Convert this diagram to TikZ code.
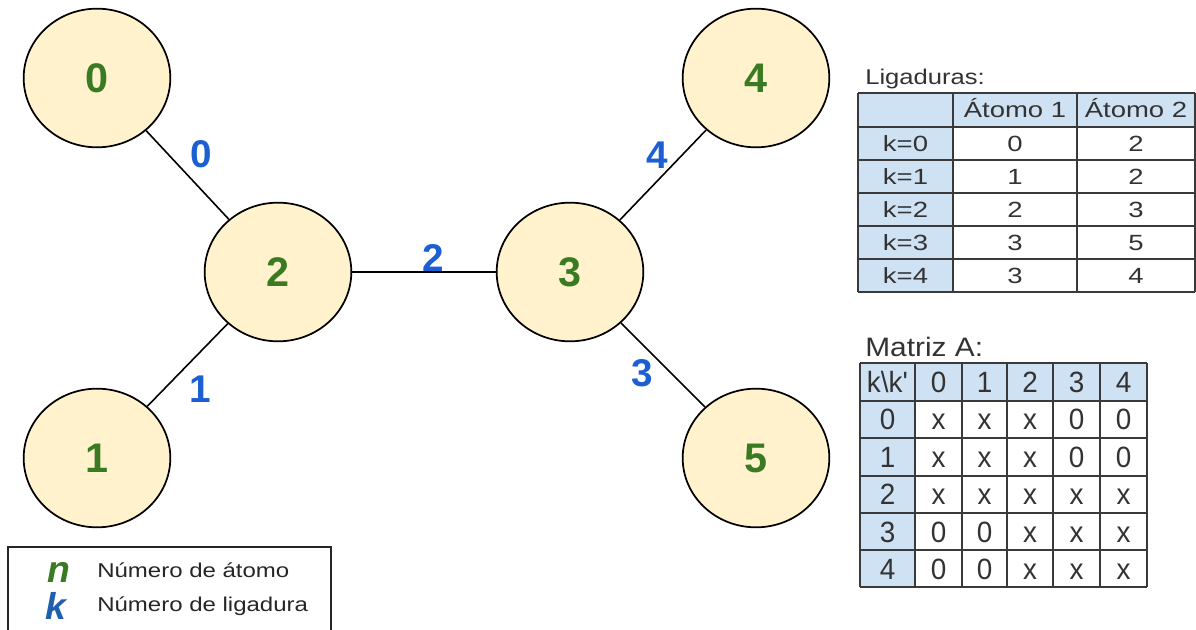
\documentclass[tikz,border=0pt]{standalone}
\usepackage{fontspec}
\setmainfont{Liberation Sans}
\newfontfamily\ligfont[FakeStretch=1.25]{Liberation Sans}
\newfontfamily\ligtitlefont[FakeStretch=1.2]{Liberation Sans}
\newfontfamily\mattitlefont[FakeStretch=1.12]{Liberation Sans}
\newfontfamily\matfont[FakeStretch=0.95]{Liberation Sans}
\newfontfamily\legfont[FakeStretch=1.2]{Liberation Sans}
\usetikzlibrary{shapes.geometric}

\definecolor{atomfill}{HTML}{FFF2CC}
\definecolor{atomgreen}{HTML}{3A7A22}
\definecolor{bondblue}{HTML}{1C5FD2}
\definecolor{legblue}{HTML}{1F5FAE}
\definecolor{hdrblue}{HTML}{CFE2F3}
\definecolor{tabtext}{HTML}{333333}
\definecolor{tabline}{HTML}{3A3A3A}

\tikzset{
  atom/.style={ellipse, draw=black, line width=1.3pt, fill=atomfill,
    minimum width=110pt, minimum height=104pt, inner sep=0pt,
    text=atomgreen, font=\fontsize{31}{31}\selectfont\bfseries},
  bond/.style={draw=black, line width=1.2pt},
  bondlbl/.style={text=bondblue, font=\fontsize{29}{29}\selectfont\bfseries,
    inner sep=0pt, anchor=base},
  tgrid/.style={draw=tabline, line width=1.1pt},
  ligcell/.style={text=tabtext, inner sep=0pt, text height=11.5pt, text depth=0pt,
    font=\ligfont\fontsize{16.5}{16.5}\selectfont},
  matcell/.style={text=tabtext, inner sep=0pt, text height=15.5pt, text depth=0pt,
    font=\matfont\fontsize{22}{22}\selectfont},
  ttitle/.style={text=tabtext, inner sep=0pt, anchor=base west},
  legsym/.style={inner sep=0pt, anchor=base west,
    font=\fontsize{28}{28}\selectfont\bfseries\itshape},
  legtext/.style={text=black!85, inner sep=0pt, anchor=base west,
    font=\legfont\fontsize{15}{15}\selectfont},
}

\begin{document}
\begin{tikzpicture}[x=0.75pt, y=-0.75pt]
  % page frame
  \fill[white] (0,0) rectangle (1196,630);
  \useasboundingbox (0,0) rectangle (1196,630);

  % ---- molecule graph ----
  \node[atom] (a0) at (97,78)  {0};
  \node[atom] (a1) at (97,458) {1};
  \node[atom] (a2) at (278,272) {2};
  \node[atom] (a3) at (570,272) {3};
  \node[atom] (a4) at (756,78) {4};
  \node[atom] (a5) at (756,458) {5};

  \draw[bond] (a0) -- (a2);
  \draw[bond] (a1) -- (a2);
  \draw[bond] (a2) -- (a3);
  \draw[bond] (a3) -- (a5);
  \draw[bond] (a3) -- (a4);

  \node[bondlbl] (b0) at (201,168) {0};
  \node[bondlbl] (b1) at (200,403) {1};
  \node[bondlbl] (b2) at (433,272) {2};
  \node[bondlbl] (b3) at (642,387) {3};
  \node[bondlbl] (b4) at (657,169) {4};

  % ---- bond table ----
  \node[ttitle, font=\ligtitlefont\fontsize{16}{16}\selectfont] (ligtitle) at (865,85) {Ligaduras:};
  \fill[hdrblue] (858,93) rectangle (1195,127);
  \fill[hdrblue] (858,127) rectangle (953,292);
  \foreach \yy in {93,127,160,193,226,259,292}
    \draw[tgrid] (858,\yy) -- (1195,\yy);
  \foreach \xx in {858,953,1077,1195}
    \draw[tgrid] (\xx,93) -- (\xx,292);
  \node[ligcell] (lh1) at (1015,110) {Átomo 1};
  \node[ligcell] (lh2) at (1136,110) {Átomo 2};
  \foreach \kk/\aa/\bb [count=\i from 0] in {k=0/0/2, k=1/1/2, k=2/2/3, k=3/3/5, k=4/3/4} {
    \pgfmathsetmacro{\ry}{143.5+33*\i}
    \node[ligcell] (lk\i) at (905.5,\ry) {\kk};
    \node[ligcell] (la\i) at (1015,\ry) {\aa};
    \node[ligcell] (lb\i) at (1136,\ry) {\bb};
  }

  % ---- adjacency matrix ----
  \node[ttitle, font=\mattitlefont\fontsize{20}{20}\selectfont] (mattitle) at (865,357) {Matriz A:};
  \fill[hdrblue] (860,363) rectangle (1147,401);
  \fill[hdrblue] (860,401) rectangle (915,587);
  \foreach \yy in {363,401,438,476,513,550,587}
    \draw[tgrid] (860,\yy) -- (1147,\yy);
  \foreach \xx in {860,915,962,1007,1053,1100,1147}
    \draw[tgrid] (\xx,363) -- (\xx,587);
  \node[matcell] (mhk) at (887.5,382) {k\textbackslash k\textquotesingle};
  \foreach \cx [count=\j from 0] in {938.5,984.5,1030,1076.5,1123.5}
    \node[matcell] (mh\j) at (\cx,382) {\j};
  \foreach \row [count=\i from 0] in {{x,x,x,0,0},{x,x,x,0,0},{x,x,x,x,x},{0,0,x,x,x},{0,0,x,x,x}} {
    \pgfmathsetmacro{\ry}{419.5+37.4*\i}
    \node[matcell] (mr\i) at (887.5,\ry) {\i};
    \foreach \v [count=\j from 0] in \row {
      \pgfmathsetmacro{\cxx}{{938.5,984.5,1030,1076.5,1123.5}[\j]}
      \node[matcell] (m\i-\j) at (\cxx,\ry) {\v};
    }
  }

  % ---- legend ----
  \draw[draw=black!85, line width=1.3pt] (8,632) -- (8,547) -- (331,547) -- (331,632);
  \node[legsym, text=atomgreen] (legn) at (47,583) {n};
  \node[legsym, text=legblue] (legk) at (45,619) {k};
  \node[legtext] (legnt) at (97,577) {Número de átomo};
  \node[legtext] (legkt) at (97,611) {Número de ligadura};
\end{tikzpicture}
\end{document}
